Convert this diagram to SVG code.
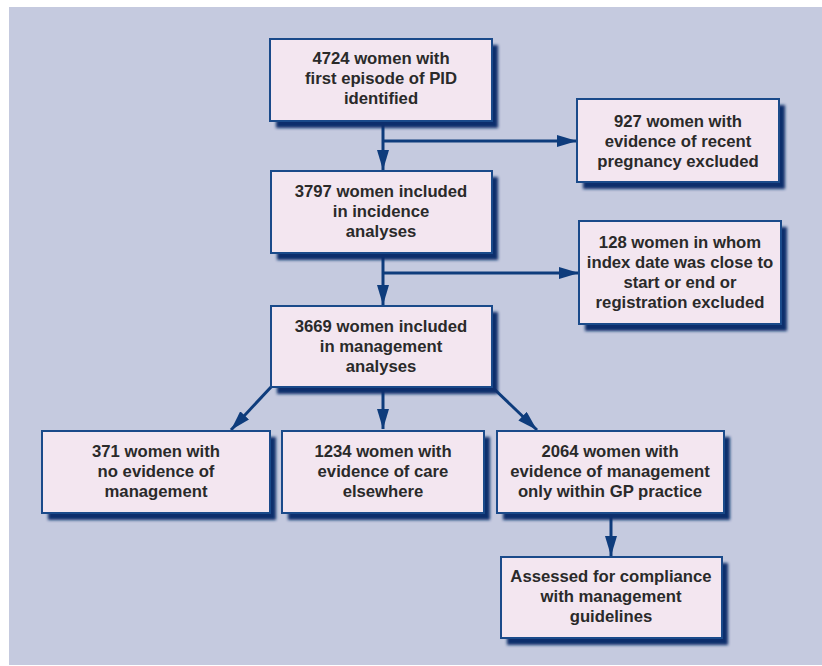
<svg xmlns="http://www.w3.org/2000/svg" width="822" height="666" viewBox="0 0 822 666">
  <defs>
    <filter id="sh" x="-10%" y="-10%" width="130%" height="140%">
      <feGaussianBlur stdDeviation="1.4"/>
    </filter>
    <marker id="ah" viewBox="0 0 20 12" refX="20" refY="6" markerWidth="20" markerHeight="12" markerUnits="userSpaceOnUse" orient="auto">
      <path d="M0,0 L20,6 L0,12 z" fill="#0E3C7C"/>
    </marker>
  </defs>
  <style>
    .shadow { fill: #0B2F6C; filter: url(#sh); }
    .box { fill: #F3E6F0; stroke: #1A4A8A; stroke-width: 2; }
    .t { font-family: "Liberation Sans", Arial, Helvetica, sans-serif; font-weight: bold; font-size: 16.7px; fill: #2A2A2A; text-anchor: middle; }
    .c { stroke: #0E3C7C; stroke-width: 3; fill: none; }
  </style>
  <rect x="0" y="0" width="822" height="666" fill="#FFFFFF"/>
  <rect x="9" y="7" width="813" height="658" fill="#C5CADF"/>

  <g id="connectors">
    <line class="c" x1="383" y1="121" x2="383" y2="170" marker-end="url(#ah)"/>
    <line class="c" x1="383" y1="141" x2="577" y2="141" marker-end="url(#ah)"/>
    <line class="c" x1="383" y1="253" x2="383" y2="305" marker-end="url(#ah)"/>
    <line class="c" x1="383" y1="273" x2="579" y2="273" marker-end="url(#ah)"/>
    <line class="c" x1="272" y1="386" x2="231" y2="430" marker-end="url(#ah)"/>
    <line class="c" x1="383" y1="387" x2="383" y2="429" marker-end="url(#ah)"/>
    <line class="c" x1="491" y1="386" x2="537" y2="430" marker-end="url(#ah)"/>
    <line class="c" x1="611" y1="513" x2="611" y2="556" marker-end="url(#ah)"/>
  </g>

  <g id="n4724">
    <rect class="shadow" x="276" y="45" width="222" height="83"/>
    <rect class="box" x="270" y="39" width="222" height="82"/>
    <text class="t" x="381" y="64">4724 women with</text>
    <text class="t" x="381" y="84">first episode of PID</text>
    <text class="t" x="381" y="104">identified</text>
  </g>

  <g id="n927">
    <rect class="shadow" x="583" y="105" width="202" height="84"/>
    <rect class="box" x="577" y="99" width="202" height="83"/>
    <text class="t" x="678" y="127">927 women with</text>
    <text class="t" x="678" y="147">evidence of recent</text>
    <text class="t" x="678" y="167">pregnancy excluded</text>
  </g>

  <g id="n3797">
    <rect class="shadow" x="277" y="177" width="221" height="83"/>
    <rect class="box" x="271" y="171" width="221" height="82"/>
    <text class="t" x="381" y="197">3797 women included</text>
    <text class="t" x="381" y="217">in incidence</text>
    <text class="t" x="381" y="237">analyses</text>
  </g>

  <g id="n128">
    <rect class="shadow" x="585" y="227" width="202" height="104"/>
    <rect class="box" x="579" y="221" width="202" height="103"/>
    <text class="t" x="680" y="248">128 women in whom</text>
    <text class="t" x="680" y="268">index date was close to</text>
    <text class="t" x="680" y="288">start or end or</text>
    <text class="t" x="680" y="308">registration excluded</text>
  </g>

  <g id="n3669">
    <rect class="shadow" x="277" y="312" width="221" height="82"/>
    <rect class="box" x="271" y="306" width="221" height="81"/>
    <text class="t" x="381" y="332">3669 women included</text>
    <text class="t" x="381" y="352">in management</text>
    <text class="t" x="381" y="372">analyses</text>
  </g>

  <g id="n371">
    <rect class="shadow" x="48" y="437" width="228" height="83"/>
    <rect class="box" x="42" y="431" width="228" height="82"/>
    <text class="t" x="156" y="457">371 women with</text>
    <text class="t" x="156" y="477">no evidence of</text>
    <text class="t" x="156" y="497">management</text>
  </g>

  <g id="n1234">
    <rect class="shadow" x="288" y="437" width="202" height="83"/>
    <rect class="box" x="282" y="431" width="202" height="82"/>
    <text class="t" x="383" y="457">1234 women with</text>
    <text class="t" x="383" y="477">evidence of care</text>
    <text class="t" x="383" y="497">elsewhere</text>
  </g>

  <g id="n2064">
    <rect class="shadow" x="503" y="437" width="227" height="83"/>
    <rect class="box" x="497" y="431" width="227" height="82"/>
    <text class="t" x="610" y="457">2064 women with</text>
    <text class="t" x="610" y="477">evidence of management</text>
    <text class="t" x="610" y="497">only within GP practice</text>
  </g>

  <g id="nassessed">
    <rect class="shadow" x="507" y="563" width="221" height="82"/>
    <rect class="box" x="501" y="557" width="221" height="81"/>
    <text class="t" x="611" y="582">Assessed for compliance</text>
    <text class="t" x="611" y="602">with management</text>
    <text class="t" x="611" y="622">guidelines</text>
  </g>
</svg>
